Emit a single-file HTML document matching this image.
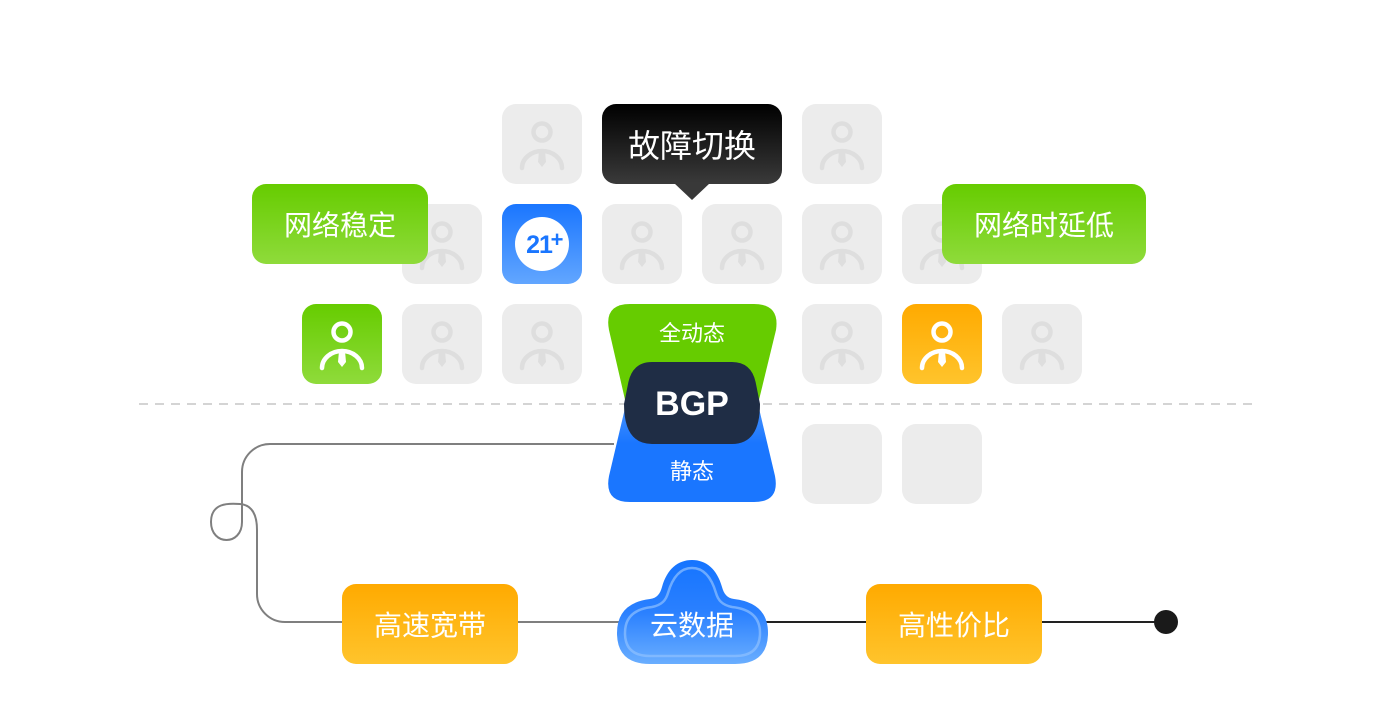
<!DOCTYPE html>
<html><head><meta charset="utf-8"><style>
body{margin:0;width:1384px;height:724px;background:#fff;overflow:hidden;position:relative;font-family:"Liberation Sans","Noto Sans CJK SC",sans-serif}
.t{position:absolute;width:80px;height:80px;border-radius:14px;background:#ececec}
.t svg{position:absolute;left:0;top:0}
.lb{position:absolute;display:flex;align-items:center;justify-content:center;color:#fff;font-size:28px;border-radius:14px}
.g{background:linear-gradient(#66cc00,#8fdb3b)}
.o{background:linear-gradient(#ffaa00,#ffc42c)}
</style></head><body>
<svg width="0" height="0" style="position:absolute"><defs>
<symbol id="p" viewBox="0 0 80 80"><circle cx="40" cy="28" r="8.5" fill="none" stroke="currentColor" stroke-width="4.5"/><path d="M20 64 A20 17 0 0 1 60 64" fill="none" stroke="currentColor" stroke-width="4.5" stroke-linecap="round"/><path d="M37 47 L43 47 L44 58 L40 63 L36 58 Z" fill="currentColor"/></symbol>
</defs></svg>

<svg style="position:absolute;left:0;top:0" width="1384" height="724">
<line x1="139" y1="404" x2="1253" y2="404" stroke="#d4d4d4" stroke-width="2" stroke-dasharray="9 7"/>
<path d="M614 444 H270 A28 28 0 0 0 242 472 V522 C242 546 211 546 211 522 C211 503 228 503 240 504 C252 505 257 515 257 530 V594 A28 28 0 0 0 285 622 H620" fill="none" stroke="#7f7f7f" stroke-width="2"/>
<line x1="760" y1="622" x2="1166" y2="622" stroke="#222" stroke-width="2"/>
<circle cx="1166" cy="622" r="12" fill="#1a1a1a"/>
</svg>

<!-- row1 -->
<div class="t" style="left:502px;top:104px;color:#dedede"><svg width="80" height="80"><use href="#p"/></svg></div>
<div class="t" style="left:802px;top:104px;color:#dedede"><svg width="80" height="80"><use href="#p"/></svg></div>
<!-- row2 -->
<div class="t" style="left:402px;top:204px;color:#dedede"><svg width="80" height="80"><use href="#p"/></svg></div>
<div class="t" style="left:502px;top:204px;background:linear-gradient(#1a76ff,#62a6ff)"><svg width="80" height="80"><circle cx="40" cy="40" r="27" fill="#fff"/><text x="37" y="49" text-anchor="middle" font-family="Liberation Sans" font-weight="bold" font-size="25" fill="#1a76ff" letter-spacing="-1">21</text><text x="55" y="43" text-anchor="middle" font-family="Liberation Sans" font-weight="bold" font-size="22" fill="#1a76ff">+</text></svg></div>
<div class="t" style="left:602px;top:204px;color:#dedede"><svg width="80" height="80"><use href="#p"/></svg></div>
<div class="t" style="left:702px;top:204px;color:#dedede"><svg width="80" height="80"><use href="#p"/></svg></div>
<div class="t" style="left:802px;top:204px;color:#dedede"><svg width="80" height="80"><use href="#p"/></svg></div>
<div class="t" style="left:902px;top:204px;color:#dedede"><svg width="80" height="80"><use href="#p"/></svg></div>
<!-- row3 -->
<div class="t" style="left:302px;top:304px;background:linear-gradient(#66cc00,#8fdb3b);color:#fff"><svg width="80" height="80"><use href="#p"/></svg></div>
<div class="t" style="left:402px;top:304px;color:#dedede"><svg width="80" height="80"><use href="#p"/></svg></div>
<div class="t" style="left:502px;top:304px;color:#dedede"><svg width="80" height="80"><use href="#p"/></svg></div>
<div class="t" style="left:802px;top:304px;color:#dedede"><svg width="80" height="80"><use href="#p"/></svg></div>
<div class="t" style="left:902px;top:304px;background:linear-gradient(#ffaa00,#ffc42c);color:#fff"><svg width="80" height="80"><use href="#p"/></svg></div>
<div class="t" style="left:1002px;top:304px;color:#dedede"><svg width="80" height="80"><use href="#p"/></svg></div>
<!-- row4 -->
<div class="t" style="left:802px;top:424px"></div>
<div class="t" style="left:902px;top:424px"></div>

<!-- tooltip -->
<div class="lb" style="left:602px;top:104px;width:180px;height:80px;background:linear-gradient(#000,#3a3a3a);font-size:32px">故障切换</div>
<svg style="position:absolute;left:674px;top:183px" width="36" height="18"><path d="M0 0 H36 L18 17 Z" fill="#393939"/></svg>

<div class="lb g" style="left:252px;top:184px;width:176px;height:80px">网络稳定</div>
<div class="lb g" style="left:942px;top:184px;width:204px;height:80px">网络时延低</div>

<!-- BGP -->
<svg style="position:absolute;left:600px;top:300px" width="190" height="210">
<defs><linearGradient id="bl" x1="0" y1="0" x2="0" y2="1"><stop offset="0" stop-color="#4a95ff"/><stop offset=".4" stop-color="#1a76ff"/><stop offset="1" stop-color="#1a76ff"/></linearGradient></defs>
<path d="M30 4 H154 Q180 4 176 30 L158 104 H26 L9 30 Q4 4 30 4 Z" fill="#66cc00"/>
<path d="M26 104 H158 L175 176 Q180 202 154 202 H30 Q4 202 9 176 Z" fill="url(#bl)"/>
<path d="M52 62 H132 Q152 62 156 84 L160 104 Q160 144 132 144 H52 Q24 144 24 104 L28 84 Q32 62 52 62 Z" fill="#1f2d45"/>
<text x="92" y="41" text-anchor="middle" font-family="Liberation Sans,Noto Sans CJK SC" font-size="22" fill="#fff">全动态</text>
<text x="92" y="115" text-anchor="middle" font-family="Liberation Sans" font-weight="bold" font-size="34" fill="#fff">BGP</text>
<text x="92" y="179" text-anchor="middle" font-family="Liberation Sans,Noto Sans CJK SC" font-size="22" fill="#fff">静态</text>
</svg>

<div class="lb o" style="left:342px;top:584px;width:176px;height:80px">高速宽带</div>
<div class="lb o" style="left:866px;top:584px;width:176px;height:80px">高性价比</div>

<!-- cloud -->
<svg style="position:absolute;left:610px;top:555px" width="165" height="115">
<defs><linearGradient id="cl" x1="0" y1="0" x2="0" y2="1"><stop offset="0" stop-color="#1574ff"/><stop offset=".5" stop-color="#2a80ff"/><stop offset="1" stop-color="#6aaeff"/></linearGradient></defs>
<path d="M40 44 C47 43 50 39 52 32 C57 14 68 5 82 5 C96 5 107 14 112 32 C114 39 117 43 124 44 Q158 48 158 78 Q158 109 125 109 H40 Q7 109 7 78 Q7 48 40 44 Z" fill="url(#cl)"/>
<path d="M42 52 C52 50 56 45 58 38 C63 21 71 13 82 13 C93 13 101 21 106 38 C108 45 112 50 122 52 Q150 55 150 78 Q150 101 125 101 H40 Q15 101 15 78 Q15 55 42 52 Z" fill="none" stroke="#8fc0ff" stroke-opacity=".7" stroke-width="2.5"/>
<text x="82" y="80" text-anchor="middle" font-family="Liberation Sans,Noto Sans CJK SC" font-size="28" fill="#fff">云数据</text>
</svg>
</body></html>
